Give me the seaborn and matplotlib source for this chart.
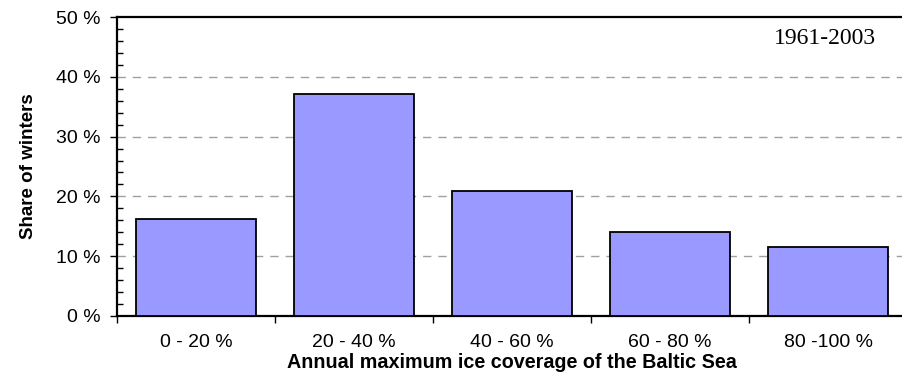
import numpy as np
import matplotlib
matplotlib.use("Agg")
import matplotlib.pyplot as plt
from matplotlib.ticker import FixedLocator, MultipleLocator
import seaborn as sns

# data ------------------------------------------------
categories = ["0 - 20 %", "20 - 40 %", "40 - 60 %", "60 - 80 %", "80 -100 %"]
share = [16.3, 37.2, 20.9, 14.0, 11.6]   # % of winters 1961-2003
ytick_vals = [0, 10, 20, 30, 40, 50]
ytick_labels = ["0 %", "10 %", "20 %", "30 %", "40 %", "50 %"]
period = "1961-2003"

# style ------------------------------------------------
sns.set_style("white")
plt.rcParams["font.family"] = ["Liberation Sans", "DejaVu Sans"]
plt.rcParams.update({"text.color": "black", "axes.labelcolor": "black",
                     "xtick.color": "black", "ytick.color": "black"})

fig = plt.figure(figsize=(9.03, 3.73), dpi=100)
ax = fig.add_axes([117 / 903, 57 / 373, 790 / 903, 299 / 373])

sns.barplot(x=categories, y=share, color="#9999FF", saturation=1,
            edgecolor="black", linewidth=1.3, width=0.765, ax=ax, zorder=3)

ax.set_xlim(-0.5, 4.5)
ax.set_ylim(0, 50)

# dashed grid at the inner major ticks
for v in ytick_vals[1:-1]:
    ax.axhline(v, color="#a0a0a0", lw=1, ls=(0, (6, 5)), zorder=1)

# y axis: major ticks out, minor inside
ax.yaxis.set_major_locator(FixedLocator(ytick_vals))
ax.set_yticklabels(ytick_labels)
ax.yaxis.set_minor_locator(MultipleLocator(2))
ax.tick_params(axis="y", which="major", direction="out", length=5, width=1,
               color="black", labelcolor="black", labelsize=14, pad=7, left=True)
ax.tick_params(axis="y", which="minor", direction="in", length=4, width=1,
               color="black", left=True)

# x axis: ticks between categories, labels centered
ax.xaxis.set_minor_locator(FixedLocator(np.arange(-0.5, 5, 1)))
ax.tick_params(axis="x", which="major", length=0, labelsize=14, pad=13,
               labelcolor="black")
ax.tick_params(axis="x", which="minor", direction="out", length=5, width=1,
               color="black", bottom=True)

for side in ("left", "bottom", "top"):
    ax.spines[side].set_color("black")
    ax.spines[side].set_linewidth(1.6)
ax.spines["right"].set_visible(False)

ax.set_ylabel("Share of winters", fontsize=13.5, fontweight="bold", color="black")
ax.yaxis.set_label_coords(-80 / 790, 0.5)
ax.set_xlabel("Annual maximum ice coverage of the Baltic Sea",
              fontsize=14.2, fontweight="bold", color="black")
ax.xaxis.set_label_coords(0.5, -37 / 299)

# period note, placed in display pixels (from bottom-left)
ax.text(825, 373 - 39, period, transform=None, fontsize=17, color="black",
        family=["Liberation Serif", "DejaVu Serif"], ha="center", va="center")

fig.savefig("out.png", dpi=100)
